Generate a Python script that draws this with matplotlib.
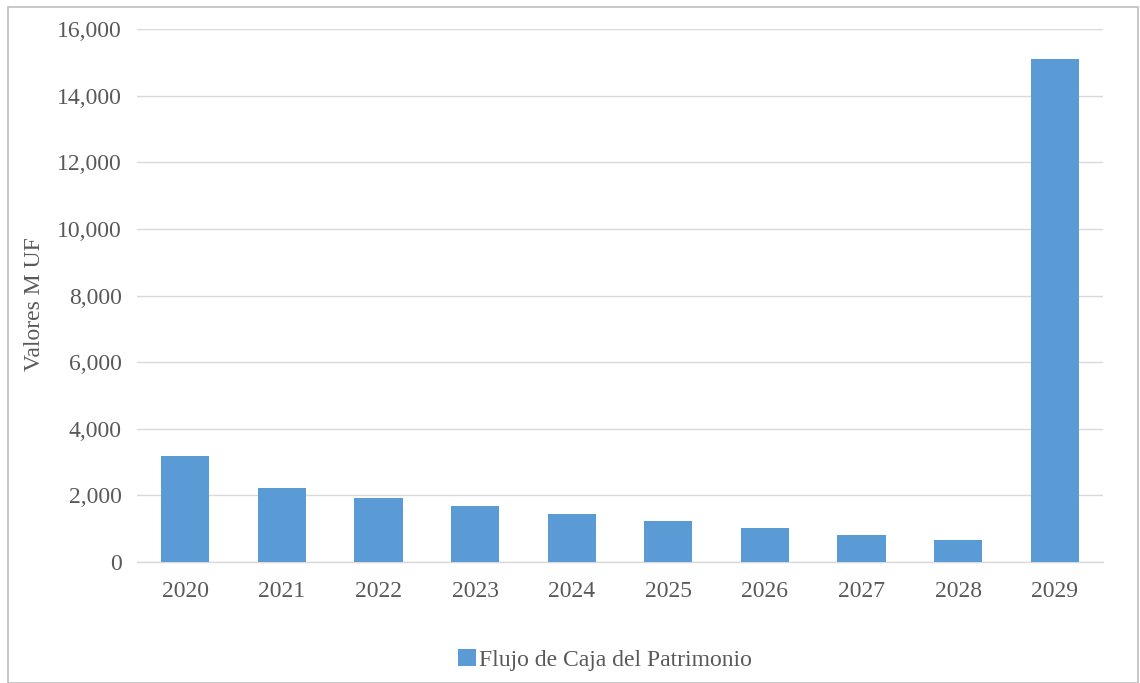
import matplotlib.pyplot as plt
from matplotlib.patches import Rectangle
from matplotlib.ticker import FuncFormatter

# Flujo de caja del patrimonio, en miles de UF
years = ['2020', '2021', '2022', '2023', '2024', '2025', '2026', '2027', '2028', '2029']
flujo = [3170, 2230, 1920, 1675, 1445, 1230, 1010, 820, 665, 15100]

plt.rcParams['font.family'] = ['Liberation Serif', 'DejaVu Serif']

fig = plt.figure(figsize=(11.4, 6.83), dpi=100)
ax = fig.add_axes([137/1140, 1 - 562/683, (1103 - 137)/1140, (562 - 29)/683])

x = range(len(years))
ax.bar(x, flujo, width=0.5, color='#5b9bd5', label='Flujo de Caja del Patrimonio', zorder=3)

ax.set_xlim(-0.5, len(years) - 0.5)
ax.set_ylim(0, 16000)
ax.set_yticks(range(0, 16001, 2000))
ax.yaxis.set_major_formatter(FuncFormatter(lambda v, p: f'{int(v):,}'))
ax.set_xticks(list(x))
ax.set_xticklabels(years)

ax.grid(axis='y', color='#d9d9d9', linewidth=1, zorder=0)
for s in ['top', 'right', 'left']:
    ax.spines[s].set_visible(False)
ax.spines['bottom'].set_color('#d9d9d9')
ax.spines['bottom'].set_linewidth(1)
ax.tick_params(axis='both', length=0, labelsize=17, colors='#595959')
ax.tick_params(axis='y', pad=11)
ax.tick_params(axis='x', pad=14)

ax.set_ylabel('Valores M UF', fontsize=17, color='#595959')
ax.yaxis.set_label_coords(-92/966, 0.484)

ax.legend(loc='center', bbox_to_anchor=(605/1140, 1 - 660/683), bbox_transform=fig.transFigure,
          frameon=False, fontsize=17, handlelength=0.75, handleheight=0.75, handletextpad=0.15,
          labelcolor='#595959')

# borde exterior del grafico
fig.patches.append(Rectangle((8/1140, 0), 1130/1140, 1 - 7/683, transform=fig.transFigure,
                             fill=False, edgecolor='#bfbfbf', linewidth=1.2))

plt.savefig('out.png', dpi=100)
